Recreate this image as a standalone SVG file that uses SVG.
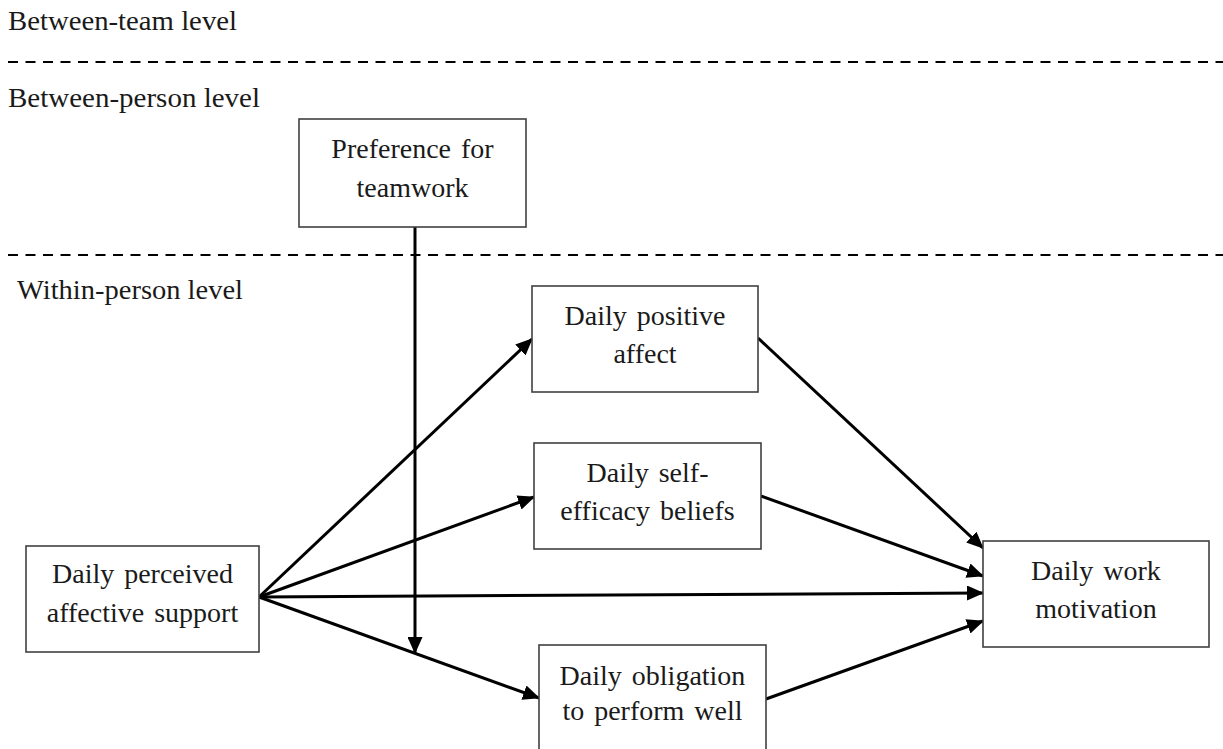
<svg xmlns="http://www.w3.org/2000/svg" width="1223" height="749" viewBox="0 0 1223 749">
<style>
  text { font-family: "Liberation Serif", "Times New Roman", serif; fill: #1a1a1a; }
  .lvl { font-size: 28px; }
  .lbl { font-size: 28px; text-anchor: middle; word-spacing: 3px; }
  .box { fill: #ffffff; stroke: #404040; stroke-width: 1.6; }
  .dash { stroke: #000; stroke-width: 2; stroke-dasharray: 10 7.5; fill: none; }
  .conn { stroke: #000; stroke-width: 3; fill: none; }
</style>
<defs>
  <marker id="arr" markerUnits="userSpaceOnUse" markerWidth="17" markerHeight="15" refX="16" refY="7.5" orient="auto">
    <path d="M0,0 L17,7.5 L0,15 z" fill="#000"/>
  </marker>
</defs>
<rect width="1223" height="749" fill="#ffffff"/>
<g id="levels">
  <text class="lvl" x="8" y="30" textLength="229" lengthAdjust="spacingAndGlyphs">Between-team level</text>
  <line class="dash" x1="8" y1="62" x2="1223" y2="62"/>
  <text class="lvl" x="8" y="107" textLength="252" lengthAdjust="spacingAndGlyphs">Between-person level</text>
  <line class="dash" x1="8" y1="255" x2="1223" y2="255"/>
  <text class="lvl" x="17" y="299" textLength="226" lengthAdjust="spacingAndGlyphs">Within-person level</text>
</g>
<g id="connectors">
  <line class="conn" x1="415" y1="227" x2="415" y2="653" marker-end="url(#arr)"/>
  <line class="conn" x1="259" y1="597" x2="532" y2="339" marker-end="url(#arr)"/>
  <line class="conn" x1="259" y1="597" x2="534" y2="497" marker-end="url(#arr)"/>
  <line class="conn" x1="259" y1="597" x2="983" y2="593" marker-end="url(#arr)"/>
  <line class="conn" x1="259" y1="597" x2="539" y2="698" marker-end="url(#arr)"/>
  <line class="conn" x1="758" y1="338" x2="983" y2="548" marker-end="url(#arr)"/>
  <line class="conn" x1="761" y1="496" x2="983" y2="576" marker-end="url(#arr)"/>
  <line class="conn" x1="766" y1="699" x2="983" y2="621" marker-end="url(#arr)"/>
</g>
<g id="node-preference">
  <rect class="box" x="299" y="119" width="227" height="108"/>
  <text class="lbl" x="412.5" y="158">Preference for</text>
  <text class="lbl" x="412.5" y="197">teamwork</text>
</g>
<g id="node-support">
  <rect class="box" x="26" y="546" width="233" height="106"/>
  <text class="lbl" x="142.5" y="583">Daily perceived</text>
  <text class="lbl" x="142.5" y="622">affective support</text>
</g>
<g id="node-positive">
  <rect class="box" x="532" y="286" width="226" height="106"/>
  <text class="lbl" x="645" y="325">Daily positive</text>
  <text class="lbl" x="645" y="363">affect</text>
</g>
<g id="node-selfefficacy">
  <rect class="box" x="534" y="443" width="227" height="106"/>
  <text class="lbl" x="647.5" y="482">Daily self-</text>
  <text class="lbl" x="647.5" y="520">efficacy beliefs</text>
</g>
<g id="node-obligation">
  <rect class="box" x="539" y="645" width="227" height="110"/>
  <text class="lbl" x="652.5" y="685">Daily obligation</text>
  <text class="lbl" x="652.5" y="720">to perform well</text>
</g>
<g id="node-motivation">
  <rect class="box" x="983" y="541" width="226" height="106"/>
  <text class="lbl" x="1096" y="580">Daily work</text>
  <text class="lbl" x="1096" y="618">motivation</text>
</g>
</svg>
